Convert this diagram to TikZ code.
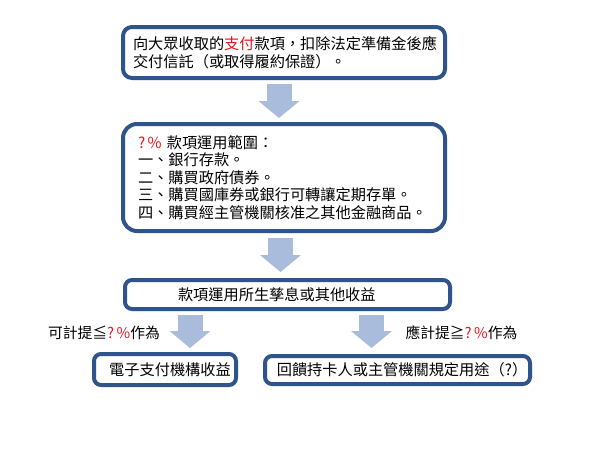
\documentclass[tikz,border=0pt]{standalone}
\usepackage{fontspec}
\setmainfont{Noto Sans CJK TC}
\usetikzlibrary{arrows.meta}
\usetikzlibrary{positioning}
\definecolor{boxblue}{RGB}{47,84,140}
\definecolor{arrowblue}{RGB}{170,188,220}
\definecolor{qred}{RGB}{232,20,30}
\newcommand{\qmark}{\textcolor{qred}{?\,\%}}
\tikzset{x = 1pt, y = -1pt,
  box/.style = {draw = boxblue, line width = 4pt, fill = white, inner sep = 0pt,
    font = \fontsize{15.2}{18.5}\selectfont},
  flow/.style = {draw = arrowblue, line width = 25pt,
    -{Triangle[width = 41pt, length = 17pt, line width = 0pt]}},
  note/.style = {font = \fontsize{14.8}{18}\selectfont, inner sep = 0pt}}

\begin{document}
\begin{tikzpicture}
  \useasboundingbox (0,0) rectangle (600,450);
  % boxes
  \node [box, rounded corners = 9pt, minimum width = 322pt, minimum height = 51pt,
    text width = 302pt, align = left] (intake) at (284,52.5)
    {向大眾收取的\textcolor{qred}{支付}款項，扣除法定準備金後應\\交付信託（或取得履約保證）。};
  \node [box, rounded corners = 14pt, below = 42pt of intake, minimum width = 322pt,
    minimum height = 107pt, text width = 292pt, align = left,
    font = \fontsize{15.2}{17.5}\selectfont] (scope)
    {\qmark{} 款項運用範圍：\\一、銀行存款。\\二、購買政府債券。\\三、購買國庫券或銀行可轉讓定期存單。\\四、購買經主管機關核准之其他金融商品。};
  \node [box, rounded corners = 7pt, below = 45pt of scope, xshift = 3.5pt,
    minimum width = 325pt, minimum height = 29pt, text width = 305pt, align = left] (yield)
    {\hspace*{43pt}款項運用所生孳息或其他收益};
  \node [box, rounded corners = 7pt, below = 41pt of yield, xshift = -122.5pt,
    minimum width = 142pt, minimum height = 31pt] (income)
    {\hspace*{10pt}電子支付機構收益};
  \node [box, rounded corners = 7pt, below = 43pt of yield, xshift = 110pt,
    minimum width = 265pt, minimum height = 28pt] (refund)
    {\hspace*{9pt}回饋持卡人或主管機關規定用途（?）};
  % arrow ends
  \coordinate (incometop) at ([xshift = 25pt]income.north);
  \coordinate (refundtop) at ([xshift = -26pt]refund.north);
  % paths
  \draw [flow, shorten < = 4pt, shorten > = 4pt]
    ([xshift = -5pt]intake.south) -- ([xshift = -5pt]scope.north);
  \draw [flow, shorten < = 5pt, shorten > = 6pt]
    ([xshift = -3.5pt]scope.south) -- ([xshift = -7pt]yield.north);
  \draw [flow, shorten < = 4pt, shorten > = 4pt] (yield.south -| incometop) -- (incometop);
  \draw [flow, shorten < = 4pt, shorten > = 6pt] (yield.south -| refundtop) -- (refundtop);
  % labels
  \node [note] (lowcap) at (104,333) {可計提≦\textcolor{qred}{?\,\%}作為};
  \node [note] (highcap) at (461.5,333) {應計提≧\textcolor{qred}{?\,\%}作為};
\end{tikzpicture}
\end{document}
